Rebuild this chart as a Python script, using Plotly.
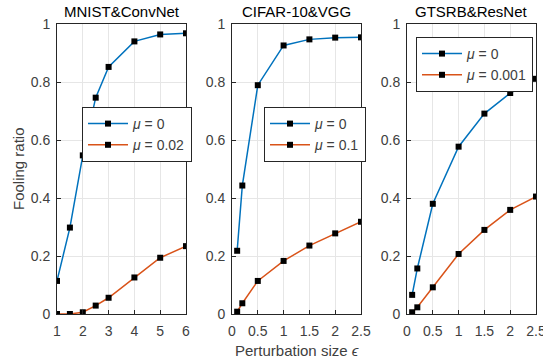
import plotly.graph_objects as go

titles = ["MNIST&ConvNet", "CIFAR-10&VGG", "GTSRB&ResNet"]

x1 = [1, 1.5, 2, 2.5, 3, 4, 5, 6]
blue1 = [0.114, 0.298, 0.547, 0.746, 0.852, 0.940, 0.964, 0.968]
orange1 = [0.0, 0.0, 0.006, 0.029, 0.056, 0.126, 0.194, 0.234]

x2 = [0.1, 0.2, 0.5, 1, 1.5, 2, 2.5]
blue2 = [0.218, 0.443, 0.789, 0.926, 0.947, 0.953, 0.954]
orange2 = [0.008, 0.037, 0.114, 0.183, 0.236, 0.278, 0.318]

x3 = [0.1, 0.2, 0.5, 1, 1.5, 2, 2.5]
blue3 = [0.066, 0.157, 0.380, 0.577, 0.691, 0.762, 0.811]
orange3 = [0.006, 0.023, 0.092, 0.207, 0.290, 0.359, 0.405]

mu_labels = ["0.02", "0.1", "0.001"]

BLUE = "#0072BD"
ORANGE = "#D95319"
FONT = "Liberation Sans, Arial, sans-serif"
TXT = "#404040"

fig = go.Figure()
data = [(x1, blue1, orange1), (x2, blue2, orange2), (x3, blue3, orange3)]
for i, (xs, b, o) in enumerate(data):
    ax = "" if i == 0 else str(i + 1)
    lg = "legend" if i == 0 else "legend" + str(i + 1)
    fig.add_trace(go.Scatter(x=xs, y=b, mode="lines+markers", name="<i>μ</i> = 0",
                             line=dict(color=BLUE, width=1.5),
                             marker=dict(symbol="square", size=6, color="black"),
                             xaxis="x" + ax, yaxis="y" + ax, legend=lg))
    fig.add_trace(go.Scatter(x=xs, y=o, mode="lines+markers", name="<i>μ</i> = " + mu_labels[i],
                             line=dict(color=ORANGE, width=1.5),
                             marker=dict(symbol="square", size=6, color="black"),
                             xaxis="x" + ax, yaxis="y" + ax, legend=lg))

domains = [[57 / 543, 186 / 543], [232 / 543, 361 / 543], [407 / 543, 536 / 543]]
ydom = [1 - 314 / 360, 1 - 24 / 360]
axcommon = dict(showline=True, mirror=True, linecolor="#262626", linewidth=1,
                ticks="inside", ticklen=4, tickcolor="#262626", automargin=False,
                showgrid=True, gridcolor="#e6e6e6", gridwidth=1, zeroline=False,
                ticklabeloverflow="allow",
                tickfont=dict(family=FONT, size=14, color=TXT))
layout = dict(width=543, height=360, margin=dict(l=0, r=0, t=0, b=0),
              plot_bgcolor="white", paper_bgcolor="white", showlegend=True,
              font=dict(family=FONT, color=TXT))
for i in range(3):
    ax = "" if i == 0 else str(i + 1)
    if i == 0:
        xr, xt, xtt = [1, 6], [1, 2, 3, 4, 5, 6], ["1", "2", "3", "4", "5", "6"]
    else:
        xr, xt, xtt = [0, 2.5], [0, 0.5, 1, 1.5, 2, 2.5], ["0", "0.5", "1", "1.5", "2", "2.5"]
    layout["xaxis" + ax] = dict(domain=domains[i], range=xr, tickvals=xt, ticktext=xtt,
                                anchor="y" + ax, ticklabelstandoff=4, **axcommon)
    layout["yaxis" + ax] = dict(domain=ydom, range=[0, 1], tickvals=[0, 0.2, 0.4, 0.6, 0.8, 1],
                                ticktext=["0", "0.2", "0.4", "0.6", "0.8", "1"],
                                anchor="x" + ax, ticklabelstandoff=3, **axcommon)

legpos = [(82 / 543, 1 - 107 / 360), (264 / 543, 1 - 107 / 360), (416 / 543, 1 - 37 / 360)]
for i, (lx, ly) in enumerate(legpos):
    key = "legend" if i == 0 else "legend" + str(i + 1)
    layout[key] = dict(x=lx, y=ly, xanchor="left", yanchor="top", xref="paper", yref="paper",
                       bgcolor="white", bordercolor="#262626", borderwidth=1,
                       font=dict(family=FONT, size=14, color=TXT),
                       tracegroupgap=0, itemwidth=40)

fig.update_layout(**layout)

anns = []
for i, t in enumerate(titles):
    cx = (domains[i][0] + domains[i][1]) / 2
    anns.append(dict(text=t, x=cx, y=1 - 12 / 360, xref="paper", yref="paper",
                     showarrow=False, xanchor="center", yanchor="middle",
                     font=dict(family=FONT, size=15, color="black")))
anns.append(dict(text="Perturbation size <i>ϵ</i>", x=(domains[1][0] + domains[1][1]) / 2,
                 y=1 - 350 / 360, xref="paper", yref="paper", showarrow=False,
                 xanchor="center", yanchor="middle",
                 font=dict(family=FONT, size=15, color=TXT)))
anns.append(dict(text="Fooling ratio", x=18 / 543, y=(ydom[0] + ydom[1]) / 2,
                 xref="paper", yref="paper", showarrow=False, textangle=-90,
                 xanchor="center", yanchor="middle",
                 font=dict(family=FONT, size=15, color=TXT)))
fig.update_layout(annotations=anns)

fig.write_html("out.html", config={"displayModeBar": False},
               post_script="document.body.style.margin='0';document.body.style.padding='0';document.body.style.overflow='hidden';")
